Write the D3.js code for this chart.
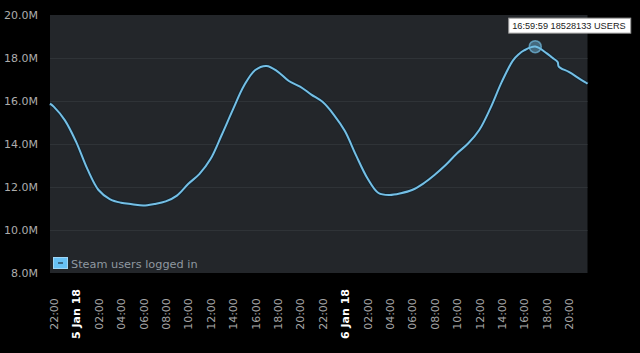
<!DOCTYPE html>
<html lang="en">
<head>
    <meta charset="UTF-8">
    <title>Steam users logged in</title>
    <style>
        body { margin: 0; background: #000; }
        svg { display: block; }
        .tick-y { font: 11px "DejaVu Sans", sans-serif; fill: #adadad; }
        .tick-x { font: 11px "DejaVu Sans", sans-serif; fill: #a4a4a4; }
        .tick-x.day { fill: #fff; font-weight: bold; }
    </style>
</head>
<body>
<svg id="chart" width="640" height="353"></svg>
<script src="https://d3js.org/d3.v7.min.js"></script>
<script>
// readings (values in millions of users)
const times = [
    "2018-01-04 21:40", "2018-01-04 22:00", "2018-01-04 23:00",
    "2018-01-05 00:00", "2018-01-05 01:00", "2018-01-05 02:00", "2018-01-05 03:00",
    "2018-01-05 04:00", "2018-01-05 05:00", "2018-01-05 06:00", "2018-01-05 07:00",
    "2018-01-05 08:00", "2018-01-05 09:00", "2018-01-05 10:00", "2018-01-05 11:00",
    "2018-01-05 12:00", "2018-01-05 13:00", "2018-01-05 14:00", "2018-01-05 15:00",
    "2018-01-05 16:00", "2018-01-05 17:00", "2018-01-05 18:00", "2018-01-05 19:00",
    "2018-01-05 20:00", "2018-01-05 21:00", "2018-01-05 22:00", "2018-01-05 23:00",
    "2018-01-06 00:00", "2018-01-06 01:00", "2018-01-06 02:00", "2018-01-06 03:00",
    "2018-01-06 04:00", "2018-01-06 05:00", "2018-01-06 06:00", "2018-01-06 07:00",
    "2018-01-06 08:00", "2018-01-06 09:00", "2018-01-06 10:00", "2018-01-06 11:00",
    "2018-01-06 12:00", "2018-01-06 13:00", "2018-01-06 14:00", "2018-01-06 15:00",
    "2018-01-06 15:30", "2018-01-06 16:00", "2018-01-06 17:00", "2018-01-06 18:00",
    "2018-01-06 18:30", "2018-01-06 19:00", "2018-01-06 19:06", "2018-01-06 20:00",
    "2018-01-06 21:00", "2018-01-06 21:30", "2018-01-06 21:40"
];
const users = [
    15.88, 15.74, 15.10,
    14.10, 12.84, 11.86, 11.44,
    11.27, 11.20, 11.14, 11.21,
    11.33, 11.60, 12.14, 12.60,
    13.30, 14.42, 15.60, 16.72,
    17.44, 17.63, 17.37, 16.93,
    16.67, 16.30, 15.96, 15.37,
    14.60, 13.47, 12.42, 11.72,
    11.63, 11.71, 11.86, 12.16,
    12.56, 13.02, 13.56, 14.02,
    14.65, 15.67, 16.88, 17.88,
    18.16, 18.35, 18.53, 18.23,
    18.02, 17.81, 17.60, 17.35,
    17.02, 16.86, 16.80
];
const yTicks = [8, 10, 12, 14, 16, 18, 20];
const seriesName = "Steam users logged in";
const hoverTime = "2018-01-06 16:59:59";
const hoverUsers = 18528133;

const parse = d3.timeParse("%Y-%m-%d %H:%M");
const data = times.map((t, i) => ({date: parse(t), value: users[i]}));

const svg = d3.select("#chart");
const plotLeft = 50, plotRight = 587.5, plotTop = 15, plotBottom = 273;

const x = d3.scaleTime()
    .domain([data[0].date, data[data.length - 1].date])
    .range([plotLeft, plotRight]);
const y = d3.scaleLinear().domain([8, 20]).range([plotBottom, plotTop]);

// plot background
svg.append("rect")
    .attr("x", plotLeft).attr("y", plotTop)
    .attr("width", plotRight - plotLeft).attr("height", plotBottom - plotTop)
    .attr("fill", "#23262a");

// gridlines
svg.append("g").selectAll("line")
    .data(yTicks.slice(1, -1))
    .enter().append("line")
    .attr("x1", plotLeft).attr("x2", plotRight)
    .attr("y1", d => Math.round(y(d)) + 0.5)
    .attr("y2", d => Math.round(y(d)) + 0.5)
    .attr("stroke", "#2f3337");

// y labels
svg.append("g").selectAll("text")
    .data(yTicks)
    .enter().append("text")
    .attr("class", "tick-y")
    .attr("x", 38)
    .attr("y", d => y(d) + 4)
    .attr("text-anchor", "end")
    .text(d => d.toFixed(1) + "M");

// x labels, every two hours, midnight shows the date
const fmtTime = d3.timeFormat("%H:%M");
const fmtDay = d3.timeFormat("%-d %b %y");
const xTicks = x.ticks(d3.timeHour.every(2));
svg.append("g").selectAll("text")
    .data(xTicks)
    .enter().append("text")
    .attr("class", d => d.getHours() === 0 ? "tick-x day" : "tick-x")
    .attr("transform", d => `translate(${x(d) + 0.5},314) rotate(-90)`)
    .attr("dy", "0.35em")
    .attr("text-anchor", "middle")
    .text(d => d.getHours() === 0 ? fmtDay(d) : fmtTime(d));

// the line
const line = d3.line()
    .x(d => x(d.date))
    .y(d => y(d.value))
    .curve(d3.curveCatmullRom.alpha(0.5));

svg.append("path")
    .datum(data)
    .attr("fill", "none")
    .attr("stroke", "#15232d")
    .attr("stroke-width", 4)
    .attr("d", line);

svg.append("path")
    .datum(data)
    .attr("fill", "none")
    .attr("stroke", "#74bfe5")
    .attr("stroke-width", 2)
    .attr("d", line);

// legend
svg.append("rect")
    .attr("x", 53.5).attr("y", 257.5)
    .attr("width", 14).attr("height", 11)
    .attr("fill", "#67c1f5")
    .attr("stroke", "#9ed6f7");
svg.append("line")
    .attr("x1", 58).attr("x2", 63)
    .attr("y1", 263).attr("y2", 263)
    .attr("stroke", "#2b4c63").attr("stroke-width", 1.5);
svg.append("text")
    .attr("x", 71).attr("y", 268)
    .attr("font-family", "DejaVu Sans, sans-serif")
    .attr("font-size", 11.3)
    .attr("fill", "#8f98a0")
    .text(seriesName);

// hovered point and tooltip
const hx = x(d3.timeParse("%Y-%m-%d %H:%M:%S")(hoverTime));
const hy = y(hoverUsers / 1e6);
svg.append("circle")
    .attr("cx", hx).attr("cy", hy).attr("r", 6)
    .attr("fill", "rgba(114,189,227,0.45)")
    .attr("stroke", "rgba(114,189,227,0.7)")
    .attr("stroke-width", 1.5);

const tip = svg.append("g").attr("transform", `translate(${hx - 27},${hy - 29})`);
tip.append("rect")
    .attr("x", 0.5).attr("y", 0.5)
    .attr("width", 122).attr("height", 15)
    .attr("fill", "#fff")
    .attr("stroke", "#9a9a9a");
tip.append("text")
    .attr("x", 4).attr("y", 11.5)
    .attr("font-family", "Liberation Sans, Arial, sans-serif")
    .attr("font-size", 9.2)
    .attr("fill", "#222")
    .text(hoverTime.slice(11) + " " + hoverUsers + " USERS");
</script>
</body>
</html>
